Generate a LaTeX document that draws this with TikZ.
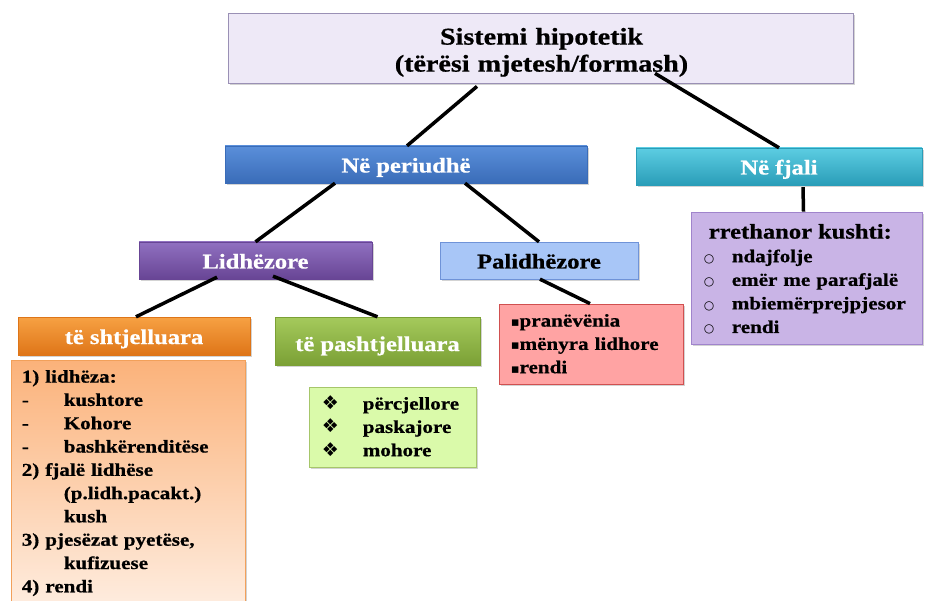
\documentclass[tikz,border=0pt]{standalone}
\usepackage{fontspec}
\setmainfont{Liberation Serif}[FakeStretch=1.17,BoldFeatures={FakeBold=0.7}]
\newfontfamily\symfont{DejaVu Sans}
\usepackage{xcolor}
\usepackage{tikz}
\definecolor{hsLav}{HTML}{EEE9F7}
\definecolor{hsLavLine}{HTML}{9A90B5}
\definecolor{hsBlueTop}{HTML}{5A8FDA}
\definecolor{hsBlueBot}{HTML}{3A6CB8}
\definecolor{hsTealTop}{HTML}{5CCDE2}
\definecolor{hsTealBot}{HTML}{2A9DB8}
\definecolor{hsPurpTop}{HTML}{9070C0}
\definecolor{hsPurpBot}{HTML}{684595}
\definecolor{hsPali}{HTML}{A8C6F7}
\definecolor{hsPaliLine}{HTML}{6F93D8}
\definecolor{hsOrTop}{HTML}{F7A143}
\definecolor{hsOrBot}{HTML}{DE7518}
\definecolor{hsGrTop}{HTML}{A5CA5C}
\definecolor{hsGrBot}{HTML}{7BA035}
\definecolor{hsOrList}{HTML}{FBB27A}
\definecolor{hsOrLine}{HTML}{F2A05A}
\definecolor{hsGrList}{HTML}{DAFAAA}
\definecolor{hsGrLine}{HTML}{A6C66A}
\definecolor{hsRedList}{HTML}{FFA3A3}
\definecolor{hsRedLine}{HTML}{D05050}
\definecolor{hsVioList}{HTML}{C9B4E6}
\definecolor{hsVioLine}{HTML}{A084CC}
\usetikzlibrary{calc,shadows}

\begin{document}
\begin{tikzpicture}[x=1pt,y=-1pt,
    shad/.style={drop shadow={shadow xshift=1.5pt,shadow yshift=-2pt,opacity=0.35}},
    hdr/.style={shad,rectangle,inner sep=0pt,text=white,
      font=\bfseries\fontsize{21}{25}\selectfont,text height=16pt,text depth=0pt},
    listbox/.style={shad,rectangle,inner sep=0pt,line width=0.8pt},
    listtext/.style={anchor=base west,inner sep=0pt,text width=250pt,align=left,
      font=\bfseries\fontsize{18}{23.3}\selectfont},
    link/.style={line width=3.5pt,black}]
    \useasboundingbox (0,0) rectangle (925,601);

    \node[shad,draw=hsLavLine,fill=hsLav,line width=0.8pt,inner sep=0pt,
      minimum width=625pt,minimum height=70pt] (top) at (540.5,48) {};
    \node[anchor=base,inner sep=0pt,text width=600pt,align=center,
      font=\bfseries\fontsize{24}{27}\selectfont] (title) at ($(top.north)+(1,32)$)
      {Sistemi hipotetik\\(tërësi mjetesh/formash)};

    \node[hdr,top color=hsBlueTop,bottom color=hsBlueBot,draw=hsBlueBot,
      minimum width=362pt,minimum height=37pt] (peri) at (406,164.5) {Në periudhë};
    \node[hdr,top color=hsTealTop,bottom color=hsTealBot,draw=hsTealBot,
      minimum width=286pt,minimum height=37pt] (fjali) at (779,166.5) {Në fjali};
    \node[hdr,top color=hsPurpTop,bottom color=hsPurpBot,draw=hsPurpBot,
      minimum width=233pt,minimum height=37pt] (lidh) at (255.5,260.5) {Lidhëzore};
    \node[hdr,fill=hsPali,draw=hsPaliLine,text=black,
      minimum width=198pt,minimum height=37pt] (pali) at (539,260.5) {Palidhëzore};
    \node[hdr,top color=hsOrTop,bottom color=hsOrBot,draw=hsOrBot,
      minimum width=232pt,minimum height=38pt] (shtj) at (134,336) {të shtjelluara};
    \node[hdr,top color=hsGrTop,bottom color=hsGrBot,draw=hsGrBot,text height=20pt,
      minimum width=205pt,minimum height=48pt] (pasht) at (377.5,341) {të pashtjelluara};

    \node[listbox,draw=hsOrLine,top color=hsOrList,middle color=hsOrList,
      bottom color=hsOrList!25,minimum width=234pt,minimum height=243pt]
      (orlist) at (128,481.5) {};
    \node[listbox,draw=hsGrLine,fill=hsGrList,minimum width=167pt,minimum height=80pt]
      (grlist) at (392.5,427) {};
    \node[listbox,draw=hsRedLine,fill=hsRedList,minimum width=184pt,minimum height=80pt]
      (redlist) at (591,344) {};
    \node[listbox,draw=hsVioLine,fill=hsVioList,minimum width=231pt,minimum height=132pt]
      (violist) at (806.5,278) {};

    \node[listtext] (ortext) at ($(orlist.north west)+(11,23)$) {1) lidhëza:\\
      \makebox[42pt][l]{-}kushtore\\
      \makebox[42pt][l]{-}Kohore\\
      \makebox[42pt][l]{-}bashkërenditëse\\
      2) fjalë lidhëse\\
      \hspace*{42pt}(p.lidh.pacakt.)\\
      \hspace*{42pt}kush\\
      3) pjesëzat pyetëse,\\
      \hspace*{42pt}kufizuese\\
      4) rendi};
    \node[listtext] (grtext) at ($(grlist.north west)+(13,23)$) {%
      \makebox[41pt][l]{\symfont\fontsize{19}{19}\selectfont ❖}përcjellore\\
      \makebox[41pt][l]{\symfont\fontsize{19}{19}\selectfont ❖}paskajore\\
      \makebox[41pt][l]{\symfont\fontsize{19}{19}\selectfont ❖}mohore};
    \node[listtext] (redtext) at ($(redlist.north west)+(12,23)$) {%
      {\symfont\fontsize{13}{13}\selectfont ▪}pranëvënia\\
      {\symfont\fontsize{13}{13}\selectfont ▪}mënyra lidhore\\
      {\symfont\fontsize{13}{13}\selectfont ▪}rendi};
    \node[listtext,text width=225pt,font=\bfseries\fontsize{18}{23.6}\selectfont]
      (viotext) at ($(violist.north west)+(13,27)$) {%
      \hspace*{5pt}{\fontsize{21}{23.6}\selectfont rrethanor kushti:}\\
      \makebox[28pt][l]{\mdseries\symfont\fontsize{12}{12}\selectfont ○}ndajfolje\\
      \makebox[28pt][l]{\mdseries\symfont\fontsize{12}{12}\selectfont ○}emër me parafjalë\\
      \makebox[28pt][l]{\mdseries\symfont\fontsize{12}{12}\selectfont ○}mbiemërprejpjesor\\
      \makebox[28pt][l]{\mdseries\symfont\fontsize{12}{12}\selectfont ○}rendi};

    \draw[link] ($(top.south)+(-63.5,3)$) -- ($(peri.north)+(1,0)$);
    \draw[link] ($(top.south)+(114.5,-10)$) -- (fjali.north);
    \draw[link] ($(peri.south)+(-71,0)$) -- (lidh.north);
    \draw[link] ($(peri.south)+(59,0)$) -- (pali.north);
    \draw[link] ($(fjali.south)+(24,2)$) -- ($(violist.north)+(-3,0)$);
    \draw[link] ($(lidh.south)+(-38.5,-2)$) -- ($(shtj.north)+(2,0)$);
    \draw[link] ($(lidh.south)+(17.5,-3)$) -- (pasht.north);
    \draw[link] ($(pali.south)+(1,0)$) -- ($(redlist.north)+(-1,0)$);
  \end{tikzpicture}
\end{document}
